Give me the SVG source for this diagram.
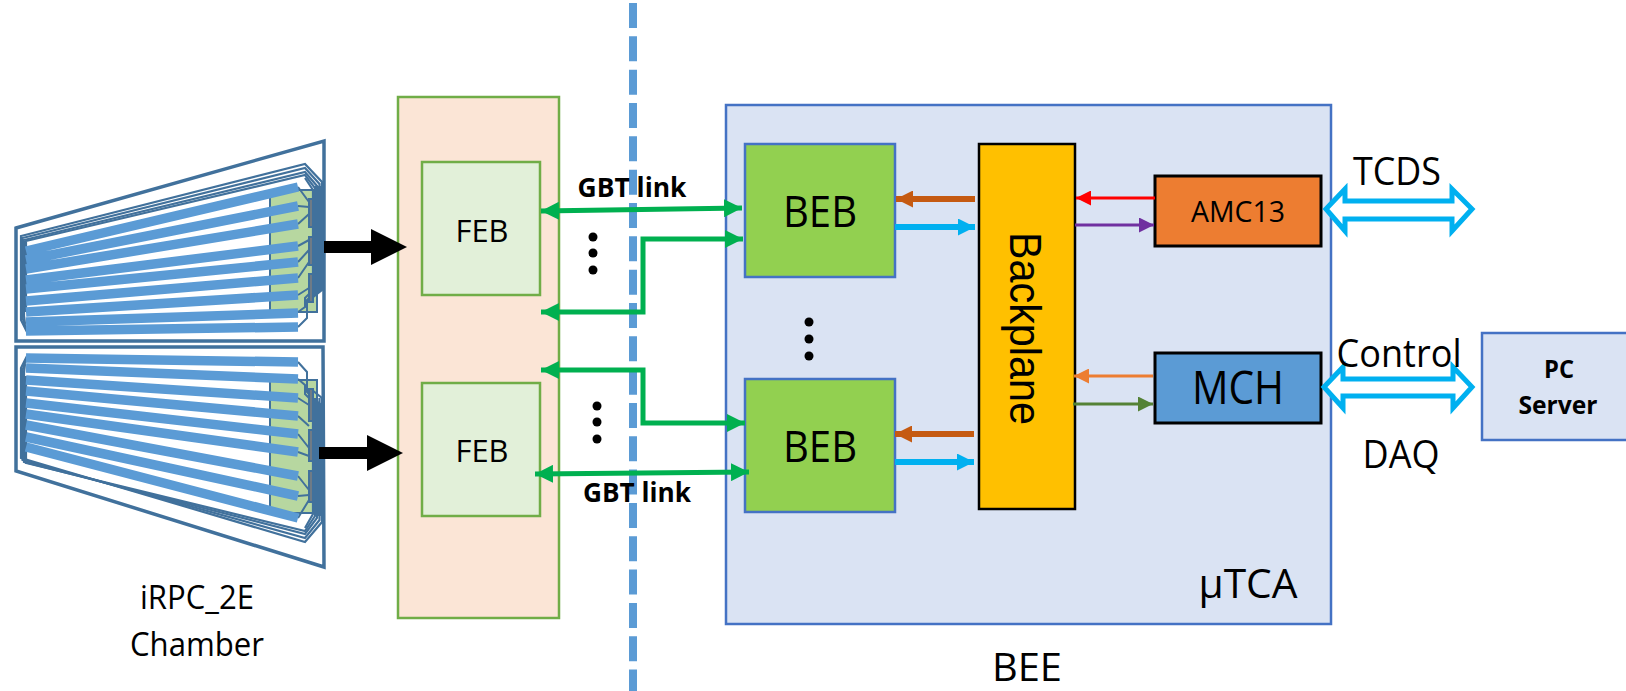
<svg xmlns="http://www.w3.org/2000/svg" width="1626" height="691" viewBox="0 0 1626 691">
<style>
text{font-family:"Liberation Sans",Arial,sans-serif;fill:#000}
.cal{font-family:"Open Sans","Liberation Sans",sans-serif}
.m{text-anchor:middle}
.b{font-weight:bold}
.ol{fill:none;stroke:#41719C;stroke-width:3.5}
.w{fill:none;stroke:#41719C;stroke-width:2.2}
.f{fill:none;stroke:#41719C;stroke-width:2}
.s{stroke:#5B9BD5;stroke-width:9.5;fill:none}
.g{fill:#B7D7A0;stroke:#41719C;stroke-width:2}
.bar{fill:#41719C}
.barc{stroke:#7F7F7F;stroke-width:1.5}
.gl{fill:none;stroke:#00B050;stroke-width:5}
.dot{fill:#000}
.dbl{fill:#fff;stroke:#00B0F0;stroke-width:5}
.k{stroke:#000;stroke-width:3}
</style>
<defs>
<marker id="mg" viewBox="0 0 10 10" refX="10" refY="5" markerUnits="userSpaceOnUse" markerWidth="18" markerHeight="18" orient="auto-start-reverse"><path d="M0 0L10 5L0 10z" fill="#00B050"/></marker>
<marker id="mbr" viewBox="0 0 10 10" refX="10" refY="5" markerUnits="userSpaceOnUse" markerWidth="17" markerHeight="17" orient="auto"><path d="M0 0L10 5L0 10z" fill="#C55A11"/></marker>
<marker id="mcy" viewBox="0 0 10 10" refX="10" refY="5" markerUnits="userSpaceOnUse" markerWidth="17" markerHeight="17" orient="auto"><path d="M0 0L10 5L0 10z" fill="#00B0F0"/></marker>
<marker id="mre" viewBox="0 0 10 10" refX="10" refY="5" markerUnits="userSpaceOnUse" markerWidth="15" markerHeight="15" orient="auto"><path d="M0 0L10 5L0 10z" fill="#FF0000"/></marker>
<marker id="mpu" viewBox="0 0 10 10" refX="10" refY="5" markerUnits="userSpaceOnUse" markerWidth="15" markerHeight="15" orient="auto"><path d="M0 0L10 5L0 10z" fill="#7030A0"/></marker>
<marker id="mor" viewBox="0 0 10 10" refX="10" refY="5" markerUnits="userSpaceOnUse" markerWidth="15" markerHeight="15" orient="auto"><path d="M0 0L10 5L0 10z" fill="#ED7D31"/></marker>
<marker id="mdg" viewBox="0 0 10 10" refX="10" refY="5" markerUnits="userSpaceOnUse" markerWidth="15" markerHeight="15" orient="auto"><path d="M0 0L10 5L0 10z" fill="#548235"/></marker>
</defs>

<g id="divider"><line x1="633" y1="3" x2="633" y2="691" stroke="#5B9BD5" stroke-width="8" stroke-dasharray="25 8.33"/></g>

<g id="chamber-top">
<path class="ol" d="M16 228L324 141V341H16Z"/>
<path class="g" d="M270 190H302L317 190V312H270Z"/>
<path class="w" d="M27 332L21 320V236L305 164L322 182V290L312 298"/>
<path class="w" d="M26 328L22.500 318V238L305 168L319.500 184V290L312 297"/>
<path class="w" d="M25 324L24 316V240L305 172L317 186V292"/>
<path class="w" d="M26 312V241L305 175L315 188V294"/>
<path class="w" d="M305 178L313 190V294"/>
<path d="M314 186H322V290L314 296Z" fill="#41719C"/>
<path class="f" d="M298 327L307 318V300L312 295M298 312L305 307V298L310 293"/>
<path class="f" d="M298 187L309 202M298 206L309 207M298 224L309 214M298 246L309 240M298 262L309 250M298 278L309 262M298 295L309 288"/>
<rect class="bar" x="308" y="198" width="6" height="30"/><rect class="bar" x="308" y="236" width="6" height="30"/><rect class="bar" x="308" y="273" width="6" height="30"/>
<path class="barc" d="M311 200V226M311 238V264M311 275V301"/>
<path class="s" d="M26 251L298 187M26 260L298 206M26 269L298 224M26 280L298 246M26 289L298 262M26 301L298 278M26 312L298 295M26 322L298 313M26 331L298 327"/>
</g>

<g id="chamber-bottom">
<path class="ol" d="M16 347H323L324 567L16 471Z"/>
<path class="g" d="M270 380H317V513H270Z"/>
<path class="w" d="M27 356L21 368V458L305 542L322 522V398L312 390"/>
<path class="w" d="M26 360L22.500 370V460L305 538L319.500 520V398"/>
<path class="w" d="M25 364L24 372V462L305 534L317 518V398"/>
<path class="w" d="M26 376V463L305 531L315 516V398"/>
<path class="w" d="M305 528L313 514V400"/>
<path d="M314 398L322 404V516H314Z" fill="#41719C"/>
<path class="f" d="M298 362L307 372V392L312 397M298 379L305 385V394L310 399"/>
<path class="f" d="M298 398L309 405M298 416L309 426M298 434L309 448M298 452L309 456M298 476L309 490M298 496L309 495M298 518L309 500"/>
<rect class="bar" x="308" y="388" width="6" height="34"/><rect class="bar" x="308" y="429" width="6" height="33"/><rect class="bar" x="308" y="470" width="6" height="33"/>
<path class="barc" d="M311 390V420M311 431V460M311 472V501"/>
<path class="s" d="M26 358L298 362M26 368L298 379M26 380L298 398M26 391L298 416M26 403L298 434M26 414L298 452M26 425L298 476M26 437L298 496M26 447L298 518"/>
</g>

<g id="feb-panel"><rect x="398" y="97" width="161" height="521" fill="#FBE5D6" stroke="#70AD47" stroke-width="2.500"/></g>
<g id="feb-1"><rect x="422" y="162" width="118" height="133" fill="#E2F0D9" stroke="#70AD47" stroke-width="2.500"/><text class="cal m" x="482" y="242" font-size="31" textLength="53" lengthAdjust="spacingAndGlyphs">FEB</text></g>
<g id="feb-2"><rect x="422" y="383" width="118" height="133" fill="#E2F0D9" stroke="#70AD47" stroke-width="2.500"/><text class="cal m" x="482" y="462" font-size="31" textLength="53" lengthAdjust="spacingAndGlyphs">FEB</text></g>

<g id="utca"><rect x="726" y="105" width="605" height="519" fill="#DAE3F3" stroke="#4472C4" stroke-width="2.500"/><text class="cal m" x="1248" y="598" font-size="41" textLength="99" lengthAdjust="spacingAndGlyphs">µTCA</text></g>
<g id="beb-1"><rect x="745" y="144" width="150" height="133" fill="#92D050" stroke="#4472C4" stroke-width="2.500"/><text class="cal m" x="820" y="227" font-size="44" textLength="74" lengthAdjust="spacingAndGlyphs">BEB</text></g>
<g id="beb-2"><rect x="745" y="379" width="150" height="133" fill="#92D050" stroke="#4472C4" stroke-width="2.500"/><text class="cal m" x="820" y="462" font-size="44" textLength="74" lengthAdjust="spacingAndGlyphs">BEB</text></g>
<g id="backplane"><rect x="979" y="144" width="96" height="365" fill="#FFC000" stroke="#000" stroke-width="2.500"/><text x="0" y="0" transform="translate(1010 232) rotate(90)" font-size="45" textLength="193" lengthAdjust="spacingAndGlyphs">Backplane</text></g>
<g id="amc13"><rect x="1155" y="176" width="166" height="70" fill="#ED7D31" class="k"/><text class="cal m" x="1238" y="222" font-size="30" textLength="94" lengthAdjust="spacingAndGlyphs">AMC13</text></g>
<g id="mch"><rect x="1155" y="353" width="166" height="70" fill="#5B9BD5" class="k"/><text class="cal m" x="1238" y="404" font-size="46" textLength="92" lengthAdjust="spacingAndGlyphs">MCH</text></g>
<g id="pc-server"><rect x="1482" y="333" width="146" height="107" fill="#DAE3F3" stroke="#4472C4" stroke-width="2.500"/><text class="cal m b" x="1559" y="378" font-size="25" textLength="30" lengthAdjust="spacingAndGlyphs">PC</text><text class="cal m b" x="1558" y="414" font-size="25" textLength="79" lengthAdjust="spacingAndGlyphs">Server</text></g>

<g id="connectors">
<path d="M324 241H371V229L407 247L371 265V253H324Z" fill="#000"/>
<path d="M319 447H367V435L403 453L367 471V459H319Z" fill="#000"/>
<path class="gl" d="M541 211L742 208" marker-start="url(#mg)" marker-end="url(#mg)"/>
<path class="gl" d="M541 312H643V239H743" marker-start="url(#mg)" marker-end="url(#mg)"/>
<path class="gl" d="M541 370H643V423H745" marker-start="url(#mg)" marker-end="url(#mg)"/>
<path class="gl" d="M535 474L749 472" marker-start="url(#mg)" marker-end="url(#mg)"/>
<path d="M975 199H896" stroke="#C55A11" stroke-width="6" marker-end="url(#mbr)"/>
<path d="M895 227H975" stroke="#00B0F0" stroke-width="6" marker-end="url(#mcy)"/>
<path d="M974 434H895" stroke="#C55A11" stroke-width="6" marker-end="url(#mbr)"/>
<path d="M895 462H974" stroke="#00B0F0" stroke-width="6" marker-end="url(#mcy)"/>
<path d="M1155 198H1076" stroke="#FF0000" stroke-width="3" marker-end="url(#mre)"/>
<path d="M1075 225H1154" stroke="#7030A0" stroke-width="3" marker-end="url(#mpu)"/>
<path d="M1153 376H1074" stroke="#ED7D31" stroke-width="3" marker-end="url(#mor)"/>
<path d="M1073 404H1153" stroke="#548235" stroke-width="3" marker-end="url(#mdg)"/>
<path class="dbl" d="M1326 209L1345 189V201H1452V189L1472 209L1452 231V219H1345V231Z"/>
<path class="dbl" d="M1324 387L1343 367V379H1453V367L1472 387L1453 408V396H1343V408Z"/>
</g>

<g id="labels">
<circle class="dot" cx="593" cy="237" r="4.500"/><circle class="dot" cx="593" cy="253" r="4.500"/><circle class="dot" cx="593" cy="270" r="4.500"/>
<circle class="dot" cx="597" cy="406" r="4.500"/><circle class="dot" cx="597" cy="422" r="4.500"/><circle class="dot" cx="597" cy="439" r="4.500"/>
<circle class="dot" cx="809" cy="322" r="4.500"/><circle class="dot" cx="809" cy="339" r="4.500"/><circle class="dot" cx="809" cy="356" r="4.500"/>
<text class="cal m b" x="632" y="197" font-size="26" textLength="109" lengthAdjust="spacingAndGlyphs">GBT link</text>
<text class="cal m b" x="637" y="502" font-size="26" textLength="108" lengthAdjust="spacingAndGlyphs">GBT link</text>
<text class="cal m" x="197" y="609" font-size="32" textLength="114" lengthAdjust="spacingAndGlyphs">iRPC_2E</text>
<text class="cal m" x="197" y="656" font-size="32" textLength="134" lengthAdjust="spacingAndGlyphs">Chamber</text>
<text class="cal m" x="1027" y="681" font-size="39" textLength="70" lengthAdjust="spacingAndGlyphs">BEE</text>
<text class="cal m" x="1397" y="185" font-size="38" textLength="88" lengthAdjust="spacingAndGlyphs">TCDS</text>
<text class="cal m" x="1399" y="367" font-size="38" textLength="125" lengthAdjust="spacingAndGlyphs">Control</text>
<text class="cal m" x="1401" y="468" font-size="38" textLength="77" lengthAdjust="spacingAndGlyphs">DAQ</text>
</g>
</svg>
